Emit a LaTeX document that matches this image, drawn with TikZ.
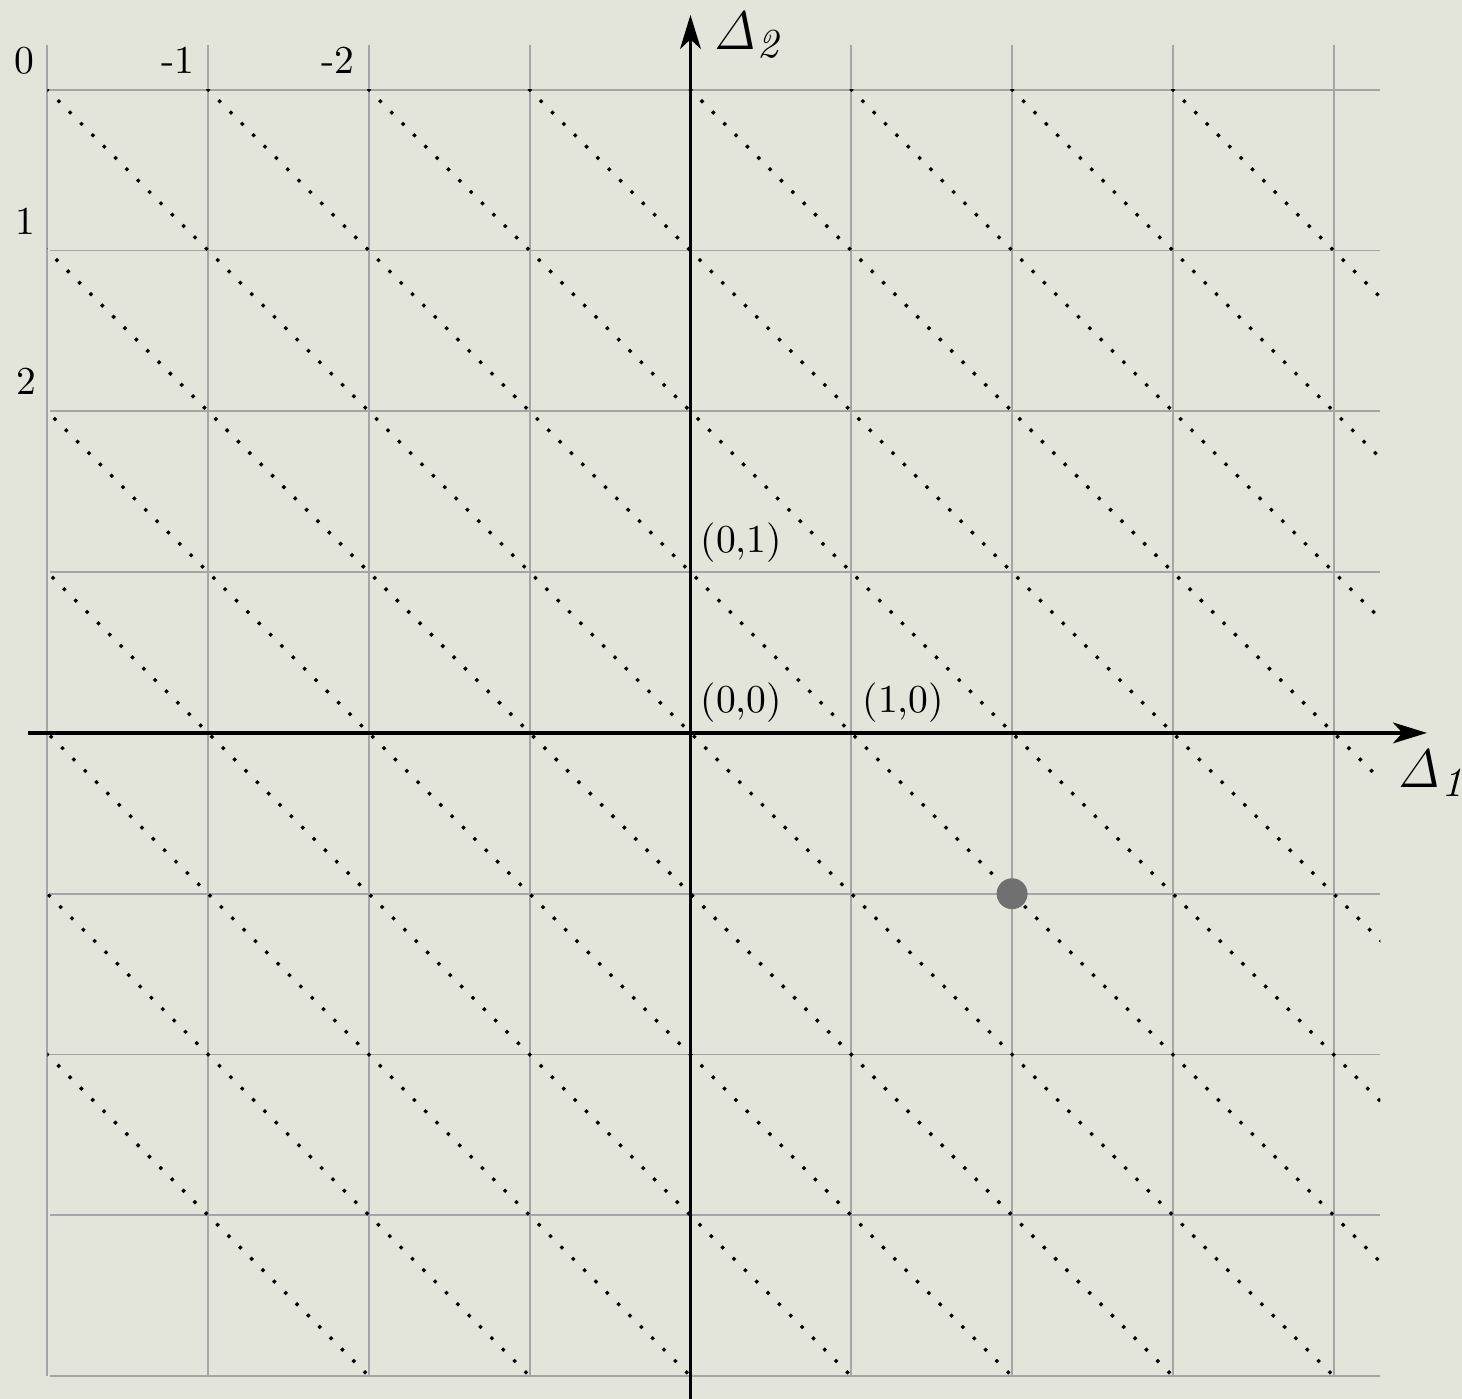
\documentclass[tikz,border=0pt]{standalone}
\usepackage{tikz}
\usetikzlibrary{arrows.meta}
\definecolor{paper}{RGB}{227,229,218}
\definecolor{gridgray}{RGB}{165,165,165}
\definecolor{dotgray}{RGB}{112,112,112}

\begin{document}
\begin{tikzpicture}[
x=1.5cm, y=1.5cm,
font=\fontsize{10.5}{12}\selectfont,
gridline/.style={draw=gridgray, line width=0.45pt},
diagline/.style={line width=0.85pt, dash pattern=on 0.85pt off 3.41pt},
axis/.style={line width=1pt, -{Stealth[length=9pt, width=5.5pt, inset=2.5pt]}},
tick/.style={inner sep=0pt},
coordlabel/.style={anchor=base west, inner sep=0pt},
axislabel/.style={anchor=base west, inner sep=0pt, font=\fontsize{15.2}{18}\selectfont}
]
% paper, fixes the margins
\fill[paper] (-4.294,-4.142) rectangle (4.798,4.558);
\useasboundingbox (-4.294,-4.142) rectangle (4.798,4.558);

% grid
\foreach \i in {-4,...,4} {
  \draw[gridline] (\i,-4) -- (\i,4.28);
  \draw[gridline] (-3.98,\i) -- (4.29,\i);
}

% diagonals
\begin{scope}
\clip (-4,-4) rectangle (4.29,4);
\foreach \c in {-6,...,7}
  \draw[diagline] (\c-4.5,4.5) -- (\c+4.5,-4.5);
\end{scope}

% axes
\coordinate (xfrom) at (-4.12,0);
\coordinate (xto) at (4.58,0);
\coordinate (yfrom) at (0,-4.3);
\coordinate (yto) at (0,4.465);
\draw[axis] (xfrom) -- (xto);
\draw[axis] (yfrom) -- (yto);

\node[axislabel] (delta1) at (4.395,-0.342) {$\mathit{\Delta_1}$};
\node[axislabel] (delta2) at (0.14,4.248) {$\mathit{\Delta_2}$};

% tick labels
\node[tick, anchor=base] (t0) at (-4.145,4.098) {0};
\node[tick, anchor=base east] (tm1) at (-3.078,4.098) {-1};
\node[tick, anchor=base east] (tm2) at (-2.086,4.098) {-2};
\node[tick, anchor=base] (t1) at (-4.136,3.097) {1};
\node[tick, anchor=base] (t2) at (-4.13,2.102) {2};

% points
\node[coordlabel] (p01) at (0.059,1.119) {(0,1)};
\node[coordlabel] (p00) at (0.059,0.124) {(0,0)};
\node[coordlabel] (p10) at (1.066,0.124) {(1,0)};
\node[circle, fill=dotgray, minimum size=8.2pt, inner sep=0pt] (pt) at (2,-1) {};
\end{tikzpicture}
\end{document}
